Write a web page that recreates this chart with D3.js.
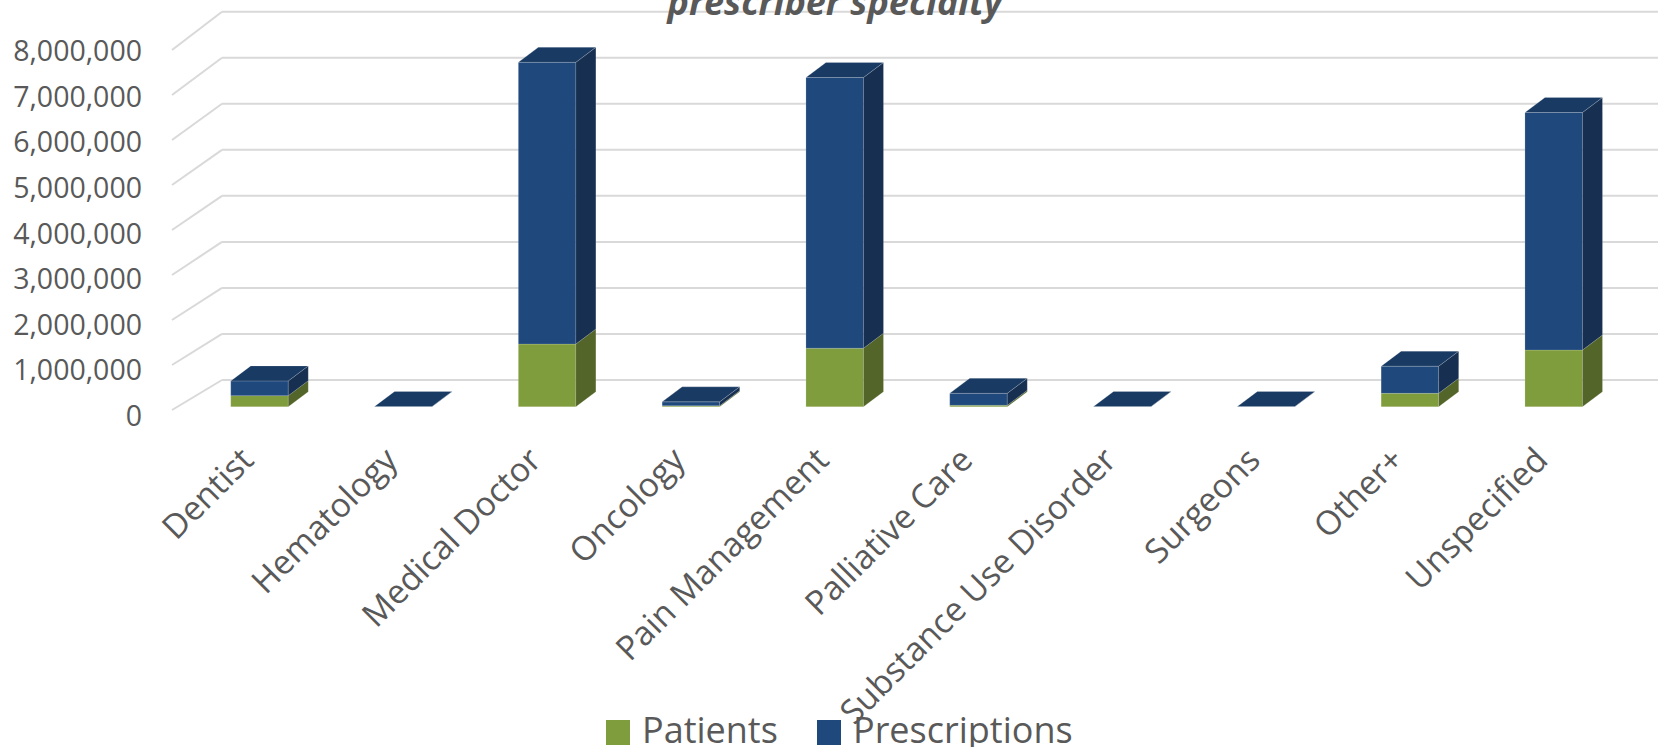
<!DOCTYPE html>
<html>
<head>
<meta charset="utf-8">
<script src="https://cdn.jsdelivr.net/npm/d3@7"></script>
<style>
  html, body { margin: 0; padding: 0; background: #ffffff; overflow: hidden; }
  svg { display: block; }
</style>
</head>
<body>
<svg id="chart" width="1661" height="747"></svg>
<script>
// ---- Data ----
const categories = ["Dentist", "Hematology", "Medical Doctor", "Oncology", "Pain Management",
  "Palliative Care", "Substance Use Disorder", "Surgeons", "Other+", "Unspecified"];
const patients = [240000, 0, 1360000, 20000, 1270000, 30000, 0, 0, 290000, 1230000];
const prescriptions = [320000, 5000, 6120000, 85000, 5880000, 260000, 4000, 4000, 590000, 5160000];
const yTicks = [0, 1000000, 2000000, 3000000, 4000000, 5000000, 6000000, 7000000, 8000000];
const seriesNames = ["Patients", "Prescriptions"];
const titleText = "prescriber specialty";

// ---- Styles ----
const colors = {
  Patients: { front: "#7f9d3d", side: "#536529", top: "#6a8433" },
  Prescriptions: { front: "#1f497d", side: "#172f50", top: "#193a62" }
};
const textColor = "#595959";
const gridColor = "#d9d9d9";
const depthX = 20, depthY = -15;

const svg = d3.select("#chart");

// ---- Scales ----
const x = d3.scaleBand().domain(categories).range([187.6, 1625.6])
  .paddingInner(0.6).paddingOuter(0.3);
const yBar = d3.scaleLinear().domain([0, 8000000]).range([406.7, 406.7 - 8 * 46.04]);
const yBack = d3.scaleLinear().domain([0, 8000000]).range([380, 11.7]);
const yWallFront = d3.scaleLinear().domain([0, 8000000]).range([410, 50]);
const yLabel = d3.scaleLinear().domain([0, 8000000]).range([415, 50]);

// ---- Gridlines (back wall + side wall) ----
const grid = svg.append("g").attr("class", "grid");
grid.selectAll("line.h").data(yTicks).join("line")
  .attr("class", "h")
  .attr("x1", 222).attr("x2", 1658)
  .attr("y1", d => yBack(d)).attr("y2", d => yBack(d))
  .attr("stroke", gridColor).attr("stroke-width", 2);
grid.selectAll("line.d").data(yTicks).join("line")
  .attr("class", "d")
  .attr("x1", 172).attr("x2", 222)
  .attr("y1", d => yWallFront(d)).attr("y2", d => yBack(d))
  .attr("stroke", gridColor).attr("stroke-width", 2);

// ---- Title ----
svg.append("text")
  .attr("x", 835).attr("y", 15)
  .attr("text-anchor", "middle")
  .attr("font-family", "'Open Sans', sans-serif")
  .attr("font-size", 36).attr("font-weight", "bold").attr("font-style", "italic")
  .attr("fill", textColor)
  .text(titleText);

// ---- Y axis labels ----
const fmt = d3.format(",");
svg.append("g").selectAll("text").data(yTicks).join("text")
  .attr("x", 142).attr("y", d => yLabel(d))
  .attr("text-anchor", "end").attr("dominant-baseline", "central")
  .attr("font-family", "'Open Sans', sans-serif").attr("font-size", 28.5)
  .attr("fill", textColor)
  .text(d => fmt(d));

// ---- Bars (3D stacked) ----
const stackData = categories.map((c, i) => ({ cat: c, Patients: patients[i], Prescriptions: prescriptions[i] }));
const stacked = d3.stack().keys(seriesNames)(stackData);

function pts(arr) { return arr.map(p => p.join(",")).join(" "); }

const barsG = svg.append("g").attr("class", "bars");
categories.forEach((c, i) => {
  const g = barsG.append("g");
  const x0 = x(c), x1 = x(c) + x.bandwidth();
  stacked.forEach((layer, li) => {
    const key = layer.key;
    const [v0, v1] = layer[i];
    const yb = yBar(v0), yt = yBar(v1);
    const col = colors[key];
    g.append("polygon")
      .attr("points", pts([[x0, yb], [x1, yb], [x1, yt], [x0, yt]]))
      .attr("fill", col.front)
      .attr("stroke", "rgba(255,255,255,0.25)").attr("stroke-width", 0.6);
    g.append("polygon")
      .attr("points", pts([[x1, yb], [x1 + depthX, yb + depthY], [x1 + depthX, yt + depthY], [x1, yt]]))
      .attr("fill", col.side)
      .attr("stroke", "rgba(255,255,255,0.2)").attr("stroke-width", 0.6);
    if (li === stacked.length - 1) {
      g.append("polygon")
        .attr("points", pts([[x0, yt], [x1, yt], [x1 + depthX, yt + depthY], [x0 + depthX, yt + depthY]]))
        .attr("fill", col.top)
        .attr("stroke", "rgba(255,255,255,0.3)").attr("stroke-width", 0.6);
    }
  });
});

// ---- Category labels ----
svg.append("g").selectAll("text").data(categories).join("text")
  .attr("transform", d => `translate(${x(d) + x.bandwidth() / 2 - 4},${462}) rotate(-45)`)
  .attr("text-anchor", "end")
  .attr("font-family", "'Open Sans', sans-serif").attr("font-size", 33.5)
  .attr("fill", textColor)
  .text(d => d);

// ---- Legend ----
const legendItems = [
  { name: "Patients", sx: 606, tx: 642 },
  { name: "Prescriptions", sx: 817, tx: 853 }
];
const lg = svg.append("g");
lg.selectAll("rect").data(legendItems).join("rect")
  .attr("x", d => d.sx).attr("y", 720).attr("width", 24).attr("height", 25)
  .attr("fill", d => colors[d.name].front);
lg.selectAll("text").data(legendItems).join("text")
  .attr("x", d => d.tx).attr("y", 743)
  .attr("font-family", "'Open Sans', sans-serif").attr("font-size", 36)
  .attr("fill", textColor)
  .text(d => d.name);
</script>
</body>
</html>
